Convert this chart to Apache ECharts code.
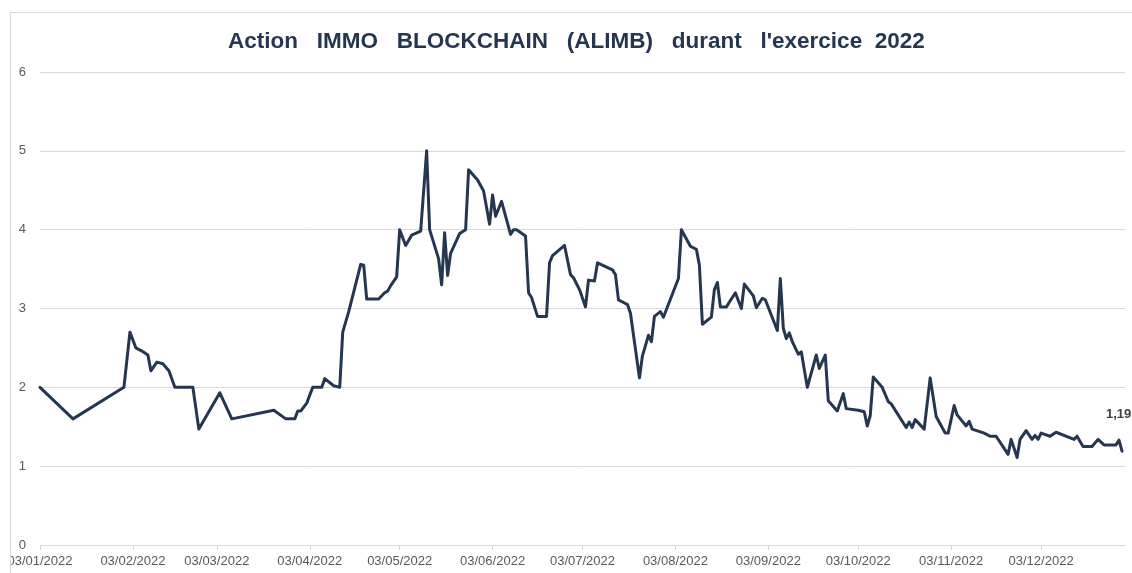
<!DOCTYPE html>
<html lang="fr">
<head>
    <meta charset="UTF-8">
    <title>Action IMMO BLOCKCHAIN (ALIMB)</title>
    <script src="https://cdn.jsdelivr.net/npm/echarts@6/dist/echarts.min.js"></script>
    <style>
        html, body { margin: 0; padding: 0; background: #fff; overflow: hidden; }
        #frame {
            position: absolute; left: 10px; top: 12px; right: -10px; bottom: -10px;
            border: 1px solid #d9d9d9; overflow: hidden;
        }
        #main { position: absolute; left: -11px; top: -13px; width: 1132px; height: 573px; }
    </style>
</head>
<body>
<div id="frame"><div id="main"></div></div>
</body>
</html>

<script>
    // cours
    var dates = [
        '2022-01-03', '2022-01-14', '2022-01-31', '2022-02-02', '2022-02-04', '2022-02-06', '2022-02-08', '2022-02-09',
        '2022-02-11', '2022-02-13', '2022-02-15', '2022-02-17', '2022-02-23', '2022-02-25', '2022-03-04', '2022-03-08',
        '2022-03-22', '2022-03-26', '2022-03-29', '2022-03-30', '2022-03-31', '2022-04-02', '2022-04-04', '2022-04-07',
        '2022-04-08', '2022-04-11', '2022-04-13', '2022-04-14', '2022-04-16', '2022-04-20', '2022-04-21', '2022-04-22',
        '2022-04-26', '2022-04-28', '2022-04-29', '2022-04-30', '2022-05-02', '2022-05-03', '2022-05-05', '2022-05-07',
        '2022-05-10', '2022-05-12', '2022-05-13', '2022-05-16', '2022-05-17', '2022-05-18', '2022-05-19', '2022-05-20',
        '2022-05-23', '2022-05-25', '2022-05-26', '2022-05-29', '2022-05-31', '2022-06-02', '2022-06-03', '2022-06-04',
        '2022-06-06', '2022-06-08', '2022-06-09', '2022-06-10', '2022-06-11', '2022-06-14', '2022-06-15', '2022-06-16',
        '2022-06-18', '2022-06-21', '2022-06-22', '2022-06-23', '2022-06-27', '2022-06-29', '2022-06-30', '2022-07-02',
        '2022-07-04', '2022-07-05', '2022-07-07', '2022-07-08', '2022-07-13', '2022-07-14', '2022-07-15', '2022-07-17',
        '2022-07-18', '2022-07-19', '2022-07-22', '2022-07-23', '2022-07-25', '2022-07-26', '2022-07-27', '2022-07-29',
        '2022-07-30', '2022-08-04', '2022-08-05', '2022-08-08', '2022-08-10', '2022-08-11', '2022-08-12', '2022-08-15',
        '2022-08-16', '2022-08-17', '2022-08-18', '2022-08-20', '2022-08-23', '2022-08-25', '2022-08-26', '2022-08-29',
        '2022-08-30', '2022-09-01', '2022-09-02', '2022-09-06', '2022-09-07', '2022-09-08', '2022-09-09', '2022-09-10',
        '2022-09-11', '2022-09-13', '2022-09-14', '2022-09-16', '2022-09-19', '2022-09-20', '2022-09-22', '2022-09-23',
        '2022-09-26', '2022-09-28', '2022-09-29', '2022-10-03', '2022-10-05', '2022-10-06', '2022-10-07', '2022-10-08',
        '2022-10-11', '2022-10-13', '2022-10-14', '2022-10-19', '2022-10-20', '2022-10-21', '2022-10-22', '2022-10-25',
        '2022-10-27', '2022-10-29', '2022-11-01', '2022-11-02', '2022-11-04', '2022-11-05', '2022-11-08', '2022-11-09',
        '2022-11-10', '2022-11-14', '2022-11-16', '2022-11-18', '2022-11-22', '2022-11-23', '2022-11-25', '2022-11-26',
        '2022-11-28', '2022-11-30', '2022-12-01', '2022-12-02', '2022-12-03', '2022-12-06', '2022-12-08', '2022-12-14',
        '2022-12-15', '2022-12-17', '2022-12-20', '2022-12-22', '2022-12-24', '2022-12-28', '2022-12-29', '2022-12-30'
    ];
    var prices = [
        2.00, 1.60, 2.00, 2.70, 2.50, 2.46, 2.41, 2.21,
        2.32, 2.30, 2.21, 2.00, 2.00, 1.47, 1.93, 1.60,
        1.71, 1.60, 1.60, 1.70, 1.70, 1.80, 2.00, 2.00,
        2.11, 2.02, 2.00, 2.70, 2.96, 3.56, 3.55, 3.12,
        3.12, 3.20, 3.22, 3.29, 3.40, 4.00, 3.80, 3.93,
        3.98, 5.00, 4.00, 3.63, 3.30, 3.96, 3.42, 3.70,
        3.95, 4.00, 4.76, 4.63, 4.49, 4.07, 4.44, 4.17,
        4.36, 4.08, 3.94, 4.00, 4.00, 3.92, 3.20, 3.14,
        2.90, 2.90, 3.58, 3.67, 3.80, 3.43, 3.39, 3.24,
        3.02, 3.36, 3.35, 3.58, 3.49, 3.43, 3.11, 3.07,
        3.05, 2.94, 2.12, 2.40, 2.66, 2.58, 2.90, 2.96,
        2.89, 3.38, 4.00, 3.79, 3.75, 3.55, 2.80, 2.89,
        3.24, 3.33, 3.02, 3.02, 3.20, 3.00, 3.31, 3.16,
        3.01, 3.13, 3.11, 2.72, 3.38, 2.75, 2.62, 2.69,
        2.58, 2.42, 2.45, 2.00, 2.41, 2.24, 2.41, 1.83,
        1.70, 1.92, 1.73, 1.71, 1.69, 1.51, 1.64, 2.13,
        2.00, 1.82, 1.79, 1.49, 1.56, 1.49, 1.59, 1.47,
        2.12, 1.63, 1.42, 1.42, 1.77, 1.65, 1.51, 1.57,
        1.47, 1.42, 1.38, 1.38, 1.15, 1.34, 1.11, 1.34,
        1.45, 1.34, 1.39, 1.34, 1.42, 1.38, 1.43, 1.34,
        1.38, 1.25, 1.25, 1.34, 1.27, 1.27, 1.33, 1.19
    ];
    var tickDates = [
        '2022-01-03', '2022-02-03', '2022-03-03', '2022-04-03', '2022-05-03', '2022-06-03',
        '2022-07-03', '2022-08-03', '2022-09-03', '2022-10-03', '2022-11-03', '2022-12-03'
    ];
    var yTicks = [0, 1, 2, 3, 4, 5, 6];

    var ts = function (s) { return echarts.time.parse(s).getTime(); };
    var pad = function (n) { return n < 10 ? '0' + n : '' + n; };

    var seriesData = dates.map(function (d, i) { return [ts(d), prices[i]]; });
    var tickValues = tickDates.map(ts);

    var myChart = echarts.init(document.getElementById('main'));

    var option = {
        animation: false,
        title: {
            text: 'Action   IMMO   BLOCKCHAIN   (ALIMB)   durant   l\'exercice  2022',
            left: 223,
            top: 25,
            textStyle: {
                fontFamily: 'Liberation Sans',
                fontSize: 22.5,
                fontWeight: 'bold',
                color: '#253650'
            }
        },
        grid: { left: 40, right: 7, top: 72, bottom: 28 },
        xAxis: {
            // dates en millisecondes, graduées le 3 de chaque mois comme dans Excel
            type: 'value',
            min: ts('2022-01-03'),
            max: ts('2022-12-31'),
            axisLine: { lineStyle: { color: '#d9d9d9', width: 1 } },
            axisTick: { show: true, length: 5, customValues: tickValues, lineStyle: { color: '#d9d9d9' } },
            splitLine: { show: false },
            axisLabel: {
                customValues: tickValues,
                margin: 10,
                color: '#595959',
                fontFamily: 'Liberation Sans',
                fontSize: 13,
                hideOverlap: false,
                formatter: function (v) {
                    var d = new Date(v);
                    return pad(d.getDate()) + '/' + pad(d.getMonth() + 1) + '/' + d.getFullYear();
                }
            }
        },
        yAxis: {
            type: 'value',
            min: yTicks[0],
            max: yTicks[yTicks.length - 1],
            interval: 1,
            axisLine: { show: false },
            axisTick: { show: false },
            splitLine: { lineStyle: { color: '#d9d9d9', width: 1 } },
            axisLabel: {
                margin: 14,
                color: '#595959',
                fontFamily: 'Liberation Sans',
                fontSize: 13
            }
        },
        series: [{
            type: 'line',
            data: seriesData,
            showSymbol: false,
            lineStyle: { color: '#253650', width: 3, join: 'round', cap: 'round' },
            itemStyle: { color: '#253650' },
            endLabel: {
                show: true,
                offset: [-24, -37],
                fontFamily: 'Liberation Sans',
                fontSize: 13,
                fontWeight: 'bold',
                color: '#404040',
                formatter: function (p) {
                    return p.value[1].toFixed(2).replace('.', ',');
                }
            }
        }]
    };

    myChart.setOption(option);
</script>
